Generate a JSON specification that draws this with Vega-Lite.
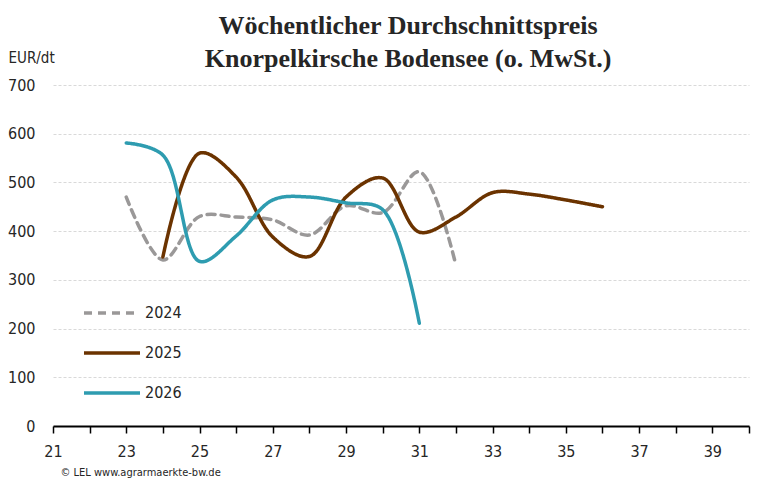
{
  "$schema": "https://vega.github.io/schema/vega-lite/v6.json",
  "width": 696,
  "height": 341,
  "autosize": {"type": "none"},
  "padding": {"left": 53, "top": 85, "right": 22, "bottom": 61},
  "background": "white",
  "title": {
    "text": ["Wöchentlicher Durchschnittspreis", "Knorpelkirsche Bodensee (o. MwSt.)"],
    "font": "Liberation Serif",
    "fontSize": 26,
    "fontWeight": "bold",
    "color": "#262626",
    "lineHeight": 33,
    "anchor": "middle",
    "frame": "group",
    "dx": 7,
    "dy": 36,
    "offset": 14
  },
  "data": {
    "values": [
      {"week": 23, "year": "2024", "price": 470},
      {"week": 24, "year": "2024", "price": 341},
      {"week": 25, "year": "2024", "price": 430},
      {"week": 26, "year": "2024", "price": 429},
      {"week": 27, "year": "2024", "price": 423},
      {"week": 28, "year": "2024", "price": 392},
      {"week": 29, "year": "2024", "price": 452},
      {"week": 30, "year": "2024", "price": 438},
      {"week": 31, "year": "2024", "price": 522},
      {"week": 32, "year": "2024", "price": 330},
      {"week": 24, "year": "2025", "price": 347},
      {"week": 25, "year": "2025", "price": 560},
      {"week": 26, "year": "2025", "price": 511},
      {"week": 27, "year": "2025", "price": 388},
      {"week": 28, "year": "2025", "price": 348},
      {"week": 29, "year": "2025", "price": 470},
      {"week": 30, "year": "2025", "price": 509},
      {"week": 31, "year": "2025", "price": 398},
      {"week": 32, "year": "2025", "price": 429},
      {"week": 33, "year": "2025", "price": 479},
      {"week": 34, "year": "2025", "price": 476},
      {"week": 35, "year": "2025", "price": 464},
      {"week": 36, "year": "2025", "price": 450},
      {"week": 23, "year": "2026", "price": 581},
      {"week": 24, "year": "2026", "price": 556},
      {"week": 25, "year": "2026", "price": 338},
      {"week": 26, "year": "2026", "price": 390},
      {"week": 27, "year": "2026", "price": 464},
      {"week": 28, "year": "2026", "price": 470},
      {"week": 29, "year": "2026", "price": 458},
      {"week": 30, "year": "2026", "price": 444},
      {"week": 31, "year": "2026", "price": 211}
    ]
  },
  "mark": {"type": "line", "interpolate": "catmull-rom", "strokeWidth": 3.5, "strokeCap": "round"},
  "encoding": {
    "x": {
      "field": "week",
      "type": "quantitative",
      "scale": {"domain": [21, 40], "nice": false, "zero": false},
      "axis": {
        "values": [21, 22, 23, 24, 25, 26, 27, 28, 29, 30, 31, 32, 33, 34, 35, 36, 37, 38, 39, 40],
        "labelExpr": "datum.value % 2 == 1 ? datum.label : ''",
        "grid": false,
        "domainColor": "#000000",
        "domainWidth": 2,
        "tickColor": "#000000",
        "tickWidth": 1.5,
        "tickSize": 7,
        "labelPadding": 10,
        "labelFont": "'DejaVu Sans Condensed', 'Liberation Sans', sans-serif",
        "labelFontSize": 16,
        "labelColor": "#262626",
        "labelFlush": false,
        "title": "© LEL www.agrarmaerkte-bw.de",
        "titleFont": "'DejaVu Sans Condensed', 'Liberation Sans', sans-serif",
        "titleFontSize": 11,
        "titleFontWeight": "normal",
        "titleColor": "#262626",
        "titleAnchor": "start",
        "titleAlign": "left",
        "titleBaseline": "middle",
        "titleX": 7,
        "titleY": 46
      }
    },
    "y": {
      "field": "price",
      "type": "quantitative",
      "scale": {"domain": [0, 700], "nice": false},
      "axis": {
        "values": [0, 100, 200, 300, 400, 500, 600, 700],
        "domain": false,
        "ticks": false,
        "gridColor": "#d9d9d9",
        "gridDash": [3, 2],
        "gridWidth": 1,
        "labelPadding": 18,
        "labelFont": "'DejaVu Sans Condensed', 'Liberation Sans', sans-serif",
        "labelFontSize": 16,
        "labelColor": "#262626",
        "title": "EUR/dt",
        "titleFont": "'DejaVu Sans Condensed', 'Liberation Sans', sans-serif",
        "titleFontSize": 15,
        "titleFontWeight": "normal",
        "titleColor": "#262626",
        "titleAngle": 0,
        "titleAlign": "left",
        "titleBaseline": "middle",
        "titleX": -45,
        "titleY": -28
      }
    },
    "color": {
      "field": "year",
      "type": "nominal",
      "scale": {"domain": ["2024", "2025", "2026"], "range": ["#9a9898", "#6b3300", "#2e9cb0"]},
      "legend": {
        "title": null,
        "orient": "none",
        "legendX": 43,
        "legendY": 212,
        "symbolType": "M-2,0H2",
        "symbolSize": 784,
        "symbolStrokeWidth": 3.5,
        "rowPadding": 16,
        "labelFont": "'DejaVu Sans Condensed', 'Liberation Sans', sans-serif",
        "labelFontSize": 16,
        "labelColor": "#262626",
        "labelOffset": 17
      }
    },
    "strokeDash": {
      "field": "year",
      "type": "nominal",
      "scale": {"domain": ["2024", "2025", "2026"], "range": [[8, 6], [1, 0], [1, 0]]},
      "legend": null
    }
  },
  "config": {
    "view": {"stroke": null}
  }
}
